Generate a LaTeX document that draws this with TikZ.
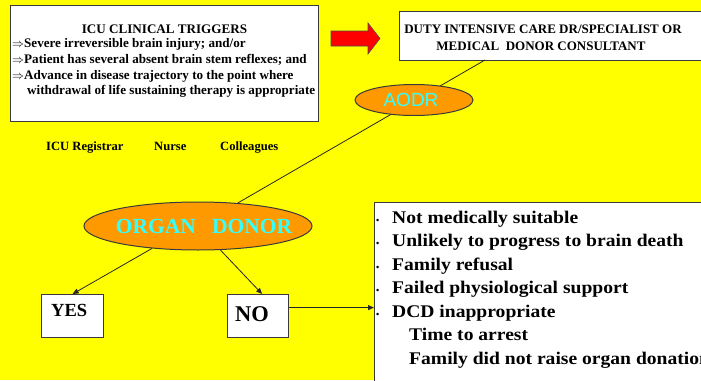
\documentclass[tikz,border=0pt]{standalone}
\usepackage{fontspec}
\setmainfont{Liberation Serif}
\newfontfamily\arialfont{Liberation Sans}
\newfontfamily\listfont{Liberation Serif}[FakeStretch=1.1]
\usetikzlibrary{shapes.geometric,arrows.meta}
\definecolor{bgyellow}{HTML}{FFFF00}
\definecolor{ovalorange}{HTML}{FF9900}
\definecolor{textcyan}{HTML}{33FFFF}
\definecolor{edgegray}{HTML}{3A3A3A}
\begin{document}
\begin{tikzpicture}[x=1pt,y=-1pt,
  whitebox/.style={draw=edgegray,line width=1.2pt,fill=white,inner sep=0pt,anchor=north west},
  oval/.style={ellipse,draw=edgegray,line width=1pt,fill=ovalorange,inner sep=0pt},
  txt/.style={inner sep=0pt,anchor=base west,font=\bfseries\fontsize{12.6}{14}\selectfont},
  ttxt/.style={inner sep=0pt,anchor=base west,font=\bfseries\fontsize{13.1}{15}\selectfont},
  dtxt/.style={inner sep=0pt,anchor=base,font=\bfseries\fontsize{13}{15}\selectfont},
  listtxt/.style={inner sep=0pt,anchor=base west,font=\listfont\bfseries\fontsize{17.8}{20}\selectfont},
  conn/.style={draw=black!85,line width=0.8pt},
  arr/.style={conn,-{Triangle[length=6pt,width=5pt]}}]
\useasboundingbox (0,0) rectangle (701,380);
\fill[bgyellow] (0,0) rectangle (701,380);
\begin{scope}
\clip (0,0) rectangle (701,380);
% trigger box
\node[whitebox,minimum width=308pt,minimum height=116pt] (trig) at (10,5) {};
\node[ttxt,anchor=base] (trigtitle) at (164.5,33.3) {ICU CLINICAL TRIGGERS};
\node[ttxt] (t1) at (12,47.8) {$\Rightarrow$Severe irreversible brain injury; and/or};
\node[ttxt] (t2) at (12,63.3) {$\Rightarrow$Patient has several absent brain stem reflexes; and};
\node[ttxt] (t3) at (12,79) {$\Rightarrow$Advance in disease trajectory to the point where};
\node[ttxt] (t4) at (27,94.3) {withdrawal of life sustaining therapy is appropriate};
% red block arrow
\filldraw[fill=red,draw=black!70,line width=0.6pt] (331,31) -- (368,31) -- (368,23) -- (380,38.5) -- (368,54) -- (368,46) -- (331,46) -- cycle;
% duty box
\node[whitebox,minimum width=320pt,minimum height=49pt] (duty) at (399,11) {};
\node[dtxt] (d1t) at (543,33.3) {DUTY INTENSIVE CARE DR/SPECIALIST OR};
\node[dtxt] (d2t) at (541,50.7) {MEDICAL\ \ DONOR CONSULTANT};
% organ donor
\node[oval,minimum width=228pt,minimum height=48pt] (organ) at (198,226) {};
\node[inner sep=0pt,text=textcyan,font=\bfseries\fontsize{21.5}{24}\selectfont] (organtxt) at (204,226) {ORGAN\ \ \ DONOR};
\coordinate (dutyfoot) at (485,60);
\draw[conn] (dutyfoot) -- (organ);
% AODR
\node[oval,minimum width=118pt,minimum height=31pt] (aodr) at (414,100) {};
\node[inner sep=0pt,text=textcyan,font=\arialfont\fontsize{19}{22}\selectfont] (aodrtxt) at (411,100) {AODR};
% staff
\node[txt] (reg) at (46,150) {ICU Registrar};
\node[txt] (nurse) at (154,150) {Nurse};
\node[txt] (coll) at (220,150) {Colleagues};
% yes / no
\node[whitebox,minimum width=62pt,minimum height=43pt] (yes) at (41,294) {};
\node[inner sep=0pt,anchor=base west,font=\bfseries\fontsize{18.5}{20}\selectfont] (yestxt) at (51,316.7) {YES};
\node[whitebox,minimum width=61pt,minimum height=43pt] (no) at (227,294) {};
\node[inner sep=0pt,anchor=base west,font=\bfseries\fontsize{22.5}{24}\selectfont] (notxt) at (235,321) {NO};
\draw[arr] (organ.206) -- (yes.north);
\draw[arr] (organ.313) -- ([xshift=4pt]no.north);
% list box
\node[whitebox,minimum width=400pt,minimum height=250pt] (list) at (374,202) {};
\draw[arr] ([yshift=8.5pt]no.east) -- ([yshift=8.5pt]no.east -| list.west);
\foreach \y/\t [count=\i] in {223.3/Not medically suitable, 246.7/Unlikely to progress to brain death, 270/Family refusal, 293.3/Failed physiological support, 317/DCD inappropriate}{
  \node[inner sep=0pt,anchor=base west,font=\bfseries\fontsize{9}{9}\selectfont] (b\i) at (376,\y) {•};
  \node[listtxt] (l\i) at (392,\y) {\t};
}
\node[listtxt] (l6) at (409,340.5) {Time to arrest};
\node[listtxt] (l7) at (409,364) {Family did not raise organ donation};
\end{scope}
\end{tikzpicture}
\end{document}
